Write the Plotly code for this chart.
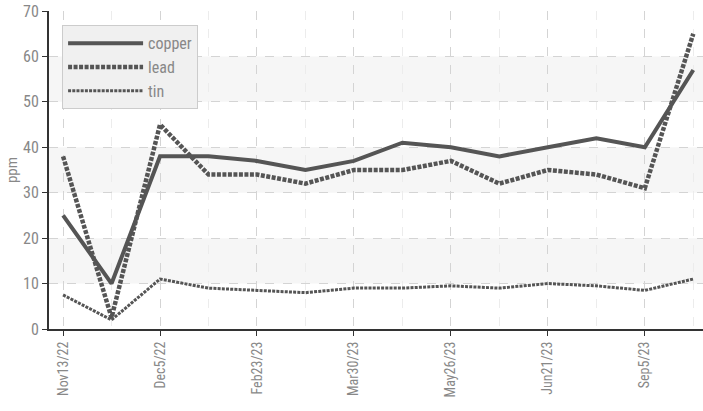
import plotly.graph_objects as go

dates = ["Nov13/22", "Nov28/22", "Dec5/22", "Jan18/23", "Feb23/23", "Mar9/23", "Mar30/23",
         "Apr27/23", "May26/23", "Jun7/23", "Jun21/23", "Jul26/23", "Sep5/23", "Oct3/23"]
copper = [25, 10, 38, 38, 37, 35, 37, 41, 40, 38, 40, 42, 40, 57]
lead = [38, 2.5, 45, 34, 34, 32, 35, 35, 37, 32, 35, 34, 31, 65]
tin = [7.5, 2, 11, 9, 8.5, 8, 9, 9, 9.5, 9, 10, 9.5, 8.5, 11]
y_ticks = [0, 10, 20, 30, 40, 50, 60, 70]
bands = [(10, 20), (30, 40), (50, 60)]

idx = list(range(len(dates)))
col = "#555555"
font = "Roboto Condensed, Liberation Sans Narrow, Roboto, Arial"

fig = go.Figure()
fig.add_trace(go.Scatter(x=idx, y=copper, name="copper", mode="lines",
                         line=dict(color=col, width=4), cliponaxis=False))
fig.add_trace(go.Scatter(x=idx, y=lead, name="lead", mode="lines",
                         line=dict(color=col, width=4.5, dash="4px,1.5px"), cliponaxis=False))
fig.add_trace(go.Scatter(x=idx, y=tin, name="tin", mode="lines",
                         line=dict(color=col, width=3, dash="3px,1.2px"), cliponaxis=False))

for lo, hi in bands:
    fig.add_shape(type="rect", xref="paper", x0=0, x1=1, yref="y", y0=lo, y1=hi,
                  fillcolor="#f6f6f6", line_width=0, layer="below")

fig.update_layout(
    width=703, height=411,
    margin=dict(l=49, r=0, t=11, b=82),
    plot_bgcolor="white", paper_bgcolor="white",
    font=dict(family=font, color="#888888", size=14),
    showlegend=True,
    legend=dict(x=0.02, y=0.955, xanchor="left", yanchor="top",
                bgcolor="#f0f0f0", bordercolor="#cccccc", borderwidth=1,
                font=dict(size=16, color="#888888"), itemwidth=75,
                tracegroupgap=0),
    xaxis=dict(range=[-0.29, 13.2], tickmode="array", automargin=False,
               tickvals=idx[::2], ticktext=dates[::2], tickangle=-90,
               tickfont=dict(size=14), ticks="outside", ticklen=5, tickcolor="#333",
               showline=True, linecolor="#333", linewidth=2,
               showgrid=True, gridcolor="#d4d4d4", griddash="dash", gridwidth=1,
               zeroline=False,
               minor=dict(dtick=1, tick0=0, showgrid=True, gridcolor="#ececec",
                          griddash="dash", ticks="")),
    yaxis=dict(range=[0, 70], tickmode="array", tickvals=y_ticks, automargin=False,
               title=dict(text="ppm", font=dict(size=15), standoff=2),
               ticks="outside", ticklen=5, tickcolor="#333",
               showline=True, linecolor="#333", linewidth=2,
               showgrid=True, gridcolor="#d4d4d4", griddash="dash", gridwidth=1,
               zeroline=False, tickfont=dict(size=16)),
)

fig.write_html("out.html", config={"displayModeBar": False},
               post_script="document.body.style.margin='0';document.body.style.overflow='hidden';")
